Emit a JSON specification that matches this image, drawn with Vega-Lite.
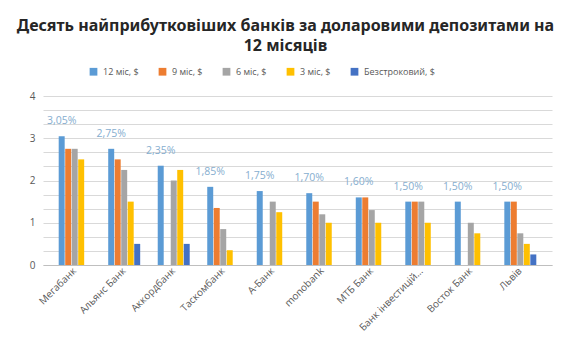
{
  "$schema": "https://vega.github.io/schema/vega-lite/v6.json",
  "width": 509,
  "height": 169,
  "autosize": {"type": "none"},
  "padding": {"left": 43, "top": 96, "right": 18, "bottom": 86},
  "background": "white",
  "title": {
    "text": ["Десять найприбутковіших банків за доларовими депозитами на", "12 місяців"],
    "font": "Noto Sans",
    "fontSize": 16,
    "fontWeight": "bold",
    "color": "#262626",
    "anchor": "middle",
    "lineHeight": 20,
    "dx": -12,
    "offset": 13
  },
  "data": {
    "values": [
      {"b": "Мегабанк", "s": "12 міс, $", "v": 3.05, "p": "3,05%"},
      {"b": "Мегабанк", "s": "9 міс, $", "v": 2.75},
      {"b": "Мегабанк", "s": "6 міс, $", "v": 2.75},
      {"b": "Мегабанк", "s": "3 міс, $", "v": 2.5},
      {"b": "Мегабанк", "s": "Безстроковий, $", "v": 0},
      {"b": "Альянс Банк", "s": "12 міс, $", "v": 2.75, "p": "2,75%"},
      {"b": "Альянс Банк", "s": "9 міс, $", "v": 2.5},
      {"b": "Альянс Банк", "s": "6 міс, $", "v": 2.25},
      {"b": "Альянс Банк", "s": "3 міс, $", "v": 1.5},
      {"b": "Альянс Банк", "s": "Безстроковий, $", "v": 0.5},
      {"b": "Аккордбанк", "s": "12 міс, $", "v": 2.35, "p": "2,35%"},
      {"b": "Аккордбанк", "s": "6 міс, $", "v": 2.0},
      {"b": "Аккордбанк", "s": "3 міс, $", "v": 2.25},
      {"b": "Аккордбанк", "s": "Безстроковий, $", "v": 0.5},
      {"b": "Таскомбанк", "s": "12 міс, $", "v": 1.85, "p": "1,85%"},
      {"b": "Таскомбанк", "s": "9 міс, $", "v": 1.35},
      {"b": "Таскомбанк", "s": "6 міс, $", "v": 0.85},
      {"b": "Таскомбанк", "s": "3 міс, $", "v": 0.35},
      {"b": "Таскомбанк", "s": "Безстроковий, $", "v": 0},
      {"b": "А-Банк", "s": "12 міс, $", "v": 1.75, "p": "1,75%"},
      {"b": "А-Банк", "s": "6 міс, $", "v": 1.5},
      {"b": "А-Банк", "s": "3 міс, $", "v": 1.25},
      {"b": "А-Банк", "s": "Безстроковий, $", "v": 0},
      {"b": "monobank", "s": "12 міс, $", "v": 1.7, "p": "1,70%"},
      {"b": "monobank", "s": "9 міс, $", "v": 1.5},
      {"b": "monobank", "s": "6 міс, $", "v": 1.2},
      {"b": "monobank", "s": "3 міс, $", "v": 1.0},
      {"b": "МТБ Банк", "s": "12 міс, $", "v": 1.6, "p": "1,60%"},
      {"b": "МТБ Банк", "s": "9 міс, $", "v": 1.6},
      {"b": "МТБ Банк", "s": "6 міс, $", "v": 1.3},
      {"b": "МТБ Банк", "s": "3 міс, $", "v": 1.0},
      {"b": "Банк інвестицій та заощаджень", "s": "12 міс, $", "v": 1.5, "p": "1,50%"},
      {"b": "Банк інвестицій та заощаджень", "s": "9 міс, $", "v": 1.5},
      {"b": "Банк інвестицій та заощаджень", "s": "6 міс, $", "v": 1.5},
      {"b": "Банк інвестицій та заощаджень", "s": "3 міс, $", "v": 1.0},
      {"b": "Восток Банк", "s": "12 міс, $", "v": 1.5, "p": "1,50%"},
      {"b": "Восток Банк", "s": "6 міс, $", "v": 1.0},
      {"b": "Восток Банк", "s": "3 міс, $", "v": 0.75},
      {"b": "Львів", "s": "12 міс, $", "v": 1.5, "p": "1,50%"},
      {"b": "Львів", "s": "9 міс, $", "v": 1.5},
      {"b": "Львів", "s": "6 міс, $", "v": 0.75},
      {"b": "Львів", "s": "3 міс, $", "v": 0.5},
      {"b": "Львів", "s": "Безстроковий, $", "v": 0.25}
    ]
  },
  "encoding": {
    "x": {
      "field": "b",
      "type": "nominal",
      "sort": null,
      "title": null,
      "scale": {"paddingInner": 0.354, "paddingOuter": 0.317},
      "axis": {
        "labelAngle": -45,
        "labelAlign": "right",
        "labelBaseline": "middle",
        "labelFont": "Open Sans",
        "labelFontSize": 10,
        "labelColor": "#595959",
        "labelLimit": 86,
        "labelPadding": 4,
        "ticks": false,
        "domainColor": "#bfbfbf",
        "domainWidth": 1.2
      }
    },
    "xOffset": {
      "field": "s",
      "type": "nominal",
      "scale": {
        "domain": ["12 міс, $", "9 міс, $", "6 міс, $", "3 міс, $", "Безстроковий, $"],
        "paddingInner": 0.08
      }
    },
    "y": {
      "field": "v",
      "type": "quantitative",
      "title": null,
      "scale": {"domain": [0, 4], "nice": false},
      "axis": {
        "values": [0, 0.33333, 0.66667, 1, 1.33333, 1.66667, 2, 2.33333, 2.66667, 3, 3.33333, 3.66667, 4],
        "labelExpr": "abs(round(datum.value) - datum.value) < 0.01 ? format(round(datum.value), 'd') : ''",
        "domain": false,
        "ticks": false,
        "gridColor": "#d9d9d9",
        "gridWidth": 1,
        "labelFont": "Open Sans",
        "labelFontSize": 10,
        "labelColor": "#595959",
        "labelPadding": 8
      }
    }
  },
  "layer": [
    {
      "mark": {"type": "bar"},
      "encoding": {
        "color": {
          "field": "s",
          "type": "nominal",
          "title": null,
          "scale": {
            "domain": ["12 міс, $", "9 міс, $", "6 міс, $", "3 міс, $", "Безстроковий, $"],
            "range": ["#5B9BD5", "#ED7D31", "#A5A5A5", "#FFC000", "#4472C4"]
          },
          "legend": {
            "orient": "none",
            "direction": "horizontal",
            "legendX": 46,
            "legendY": -29,
            "symbolType": "square",
            "symbolSize": 60,
            "symbolStrokeWidth": 0,
            "labelFont": "Open Sans",
            "labelFontSize": 9,
            "labelColor": "#595959",
            "labelOffset": 5,
            "columnPadding": 19,
            "padding": 0
          }
        }
      }
    },
    {
      "transform": [{"filter": "datum.p != null"}],
      "mark": {
        "type": "text",
        "dy": -15,
        "baseline": "middle",
        "font": "Open Sans",
        "fontSize": 10.5,
        "color": "#86AECF"
      },
      "encoding": {"text": {"field": "p"}}
    }
  ],
  "config": {"view": {"stroke": null}}
}
